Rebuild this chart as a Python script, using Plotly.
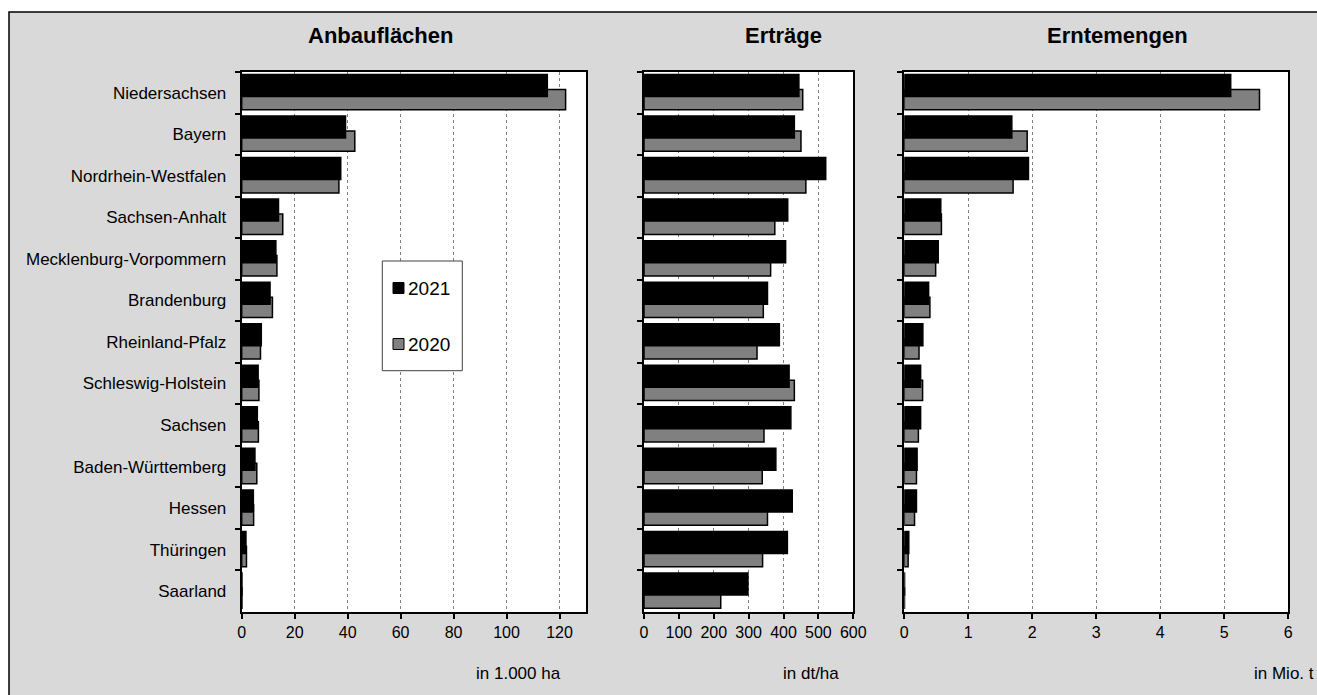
import plotly.graph_objects as go

W, H = 1317, 695

laender = [
    "Niedersachsen", "Bayern", "Nordrhein-Westfalen", "Sachsen-Anhalt",
    "Mecklenburg-Vorpommern", "Brandenburg", "Rheinland-Pfalz",
    "Schleswig-Holstein", "Sachsen", "Baden-Württemberg", "Hessen",
    "Thüringen", "Saarland",
]

# Anbauflächen in 1.000 ha
flaeche_2021 = [115.4, 39.2, 37.4, 13.9, 12.9, 10.7, 7.4, 6.2, 5.9, 5.0, 4.4, 1.6, 0.1]
flaeche_2020 = [122.3, 42.7, 36.7, 15.5, 13.3, 11.6, 7.1, 6.5, 6.3, 5.7, 4.5, 1.8, 0.1]

# Erträge in dt/ha
ertrag_2021 = [444, 431, 521, 412, 406, 354, 388, 416, 421, 378, 425, 411, 298]
ertrag_2020 = [455, 450, 464, 375, 363, 342, 324, 431, 344, 339, 354, 340, 220]

# Erntemengen in Mio. t
menge_2021 = [5.10, 1.68, 1.94, 0.57, 0.53, 0.38, 0.29, 0.255, 0.255, 0.20, 0.19, 0.07, 0.004]
menge_2020 = [5.55, 1.92, 1.70, 0.58, 0.49, 0.40, 0.23, 0.286, 0.22, 0.19, 0.16, 0.06, 0.003]

jahre = ["2021", "2020"]
farben = ["black", "#808080"]

titel = ["Anbauflächen", "Erträge", "Erntemengen"]
einheit = ["in 1.000 ha", "in dt/ha", "in Mio. t"]
x_bereich = [[0, 130], [0, 600], [0, 6]]
x_schritt = [20, 100, 1]

FONT = "Liberation Sans, Arial, sans-serif"
GRAU_BG = "#d9d9d9"


def px(x):
    return x / W


def py(y):
    return 1 - y / H


# panel extents in pixels
panels_px = [(241.7, 586.0), (644.0, 853.3), (904.3, 1288.3)]
top_px, bottom_px = 72.0, 612.0
titel_x = [380, 783, 1117]
einheit_x = [518, 811, 1284]

fig = go.Figure()

daten = [(flaeche_2021, flaeche_2020), (ertrag_2021, ertrag_2020), (menge_2021, menge_2020)]

for i, (v21, v20) in enumerate(daten):
    xa = "x" if i == 0 else f"x{i + 1}"
    ya = "y" if i == 0 else f"y{i + 1}"
    # 2020 first so the 2021 bar is drawn on top of it
    fig.add_trace(go.Bar(
        y=laender, x=v20, orientation="h", name=jahre[1],
        marker=dict(color=farben[1], line=dict(color="black", width=1.5)),
        offset=-0.08, width=0.49, xaxis=xa, yaxis=ya, showlegend=False,
    ))
    fig.add_trace(go.Bar(
        y=laender, x=v21, orientation="h", name=jahre[0],
        marker=dict(color=farben[0], line=dict(color="black", width=1.5)),
        offset=-0.44, width=0.53, xaxis=xa, yaxis=ya, showlegend=False,
    ))

layout = dict(
    width=W, height=H,
    margin=dict(l=0, r=0, t=0, b=0, autoexpand=False),
    paper_bgcolor="white",
    plot_bgcolor="white",
    barmode="overlay",
    showlegend=False,
    font=dict(family=FONT, color="black", size=16),
    shapes=[],
    annotations=[],
)

# grey chart area, framed on the left and top
layout["shapes"].append(dict(
    type="rect", xref="paper", yref="paper",
    x0=px(9), x1=1.0, y0=0.0, y1=py(12),
    fillcolor=GRAU_BG, line=dict(width=0), layer="below",
))
layout["shapes"].append(dict(
    type="path", xref="paper", yref="paper",
    path=f"M {px(9)},0 L {px(9)},{py(12)} L 1,{py(12)}",
    line=dict(color="black", width=1.5), layer="below",
))

for i, (x0, x1) in enumerate(panels_px):
    sx = "" if i == 0 else str(i + 1)
    layout[f"xaxis{sx}"] = dict(
        domain=[px(x0), px(x1)], anchor=f"y{sx}", range=x_bereich[i],
        dtick=x_schritt[i], tick0=0, automargin=False,
        showgrid=True, gridcolor="#808080", griddash="dot", gridwidth=1,
        showline=True, linecolor="black", linewidth=2, mirror=True,
        ticks="outside", ticklen=5, tickwidth=2, tickcolor="black",
        tickfont=dict(size=16), zeroline=False, fixedrange=True,
    )
    layout[f"yaxis{sx}"] = dict(
        domain=[py(bottom_px), py(top_px)], anchor=f"x{sx}",
        type="category", categoryorder="array", categoryarray=laender,
        autorange="reversed", tickson="boundaries", automargin=False,
        showline=True, linecolor="black", linewidth=2, mirror=True,
        ticks="outside", ticklen=5, tickwidth=2, tickcolor="black",
        showticklabels=(i == 0), tickfont=dict(size=17),
        ticklabelstandoff=10, showgrid=False, fixedrange=True,
    )
    layout["shapes"].append(dict(
        type="rect", xref="paper", yref="paper",
        x0=px(x0), x1=px(x1), y0=py(bottom_px), y1=py(top_px),
        fillcolor="white", line=dict(width=0), layer="below",
    ))
    layout["annotations"].append(dict(
        text=f"<b>{titel[i]}</b>", xref="paper", yref="paper",
        x=px(titel_x[i]), y=py(35), xanchor="center", yanchor="middle",
        showarrow=False, font=dict(size=22, family=FONT),
    ))
    layout["annotations"].append(dict(
        text=einheit[i], xref="paper", yref="paper",
        x=px(einheit_x[i]), y=py(673), xanchor="center", yanchor="middle",
        showarrow=False, font=dict(size=17, family=FONT),
    ))

# legend box with the two year keys
layout["shapes"].append(dict(
    type="rect", xref="paper", yref="paper",
    x0=px(382.3), x1=px(462.3), y0=py(370.7), y1=py(261),
    fillcolor="white", line=dict(color="#404040", width=1), layer="above",
))
for k, (jahr, farbe, yc) in enumerate(zip(jahre, farben, [288, 344])):
    layout["shapes"].append(dict(
        type="rect", xref="paper", yref="paper",
        x0=px(393), x1=px(404), y0=py(yc + 5.5), y1=py(yc - 5.5),
        fillcolor=farbe, line=dict(color="black", width=1), layer="above",
    ))
    layout["annotations"].append(dict(
        text=jahr, xref="paper", yref="paper",
        x=px(406), y=py(yc), xanchor="left", yanchor="middle",
        showarrow=False, font=dict(size=19, family=FONT),
    ))

fig.update_layout(**layout)
fig.write_html("out.html")
